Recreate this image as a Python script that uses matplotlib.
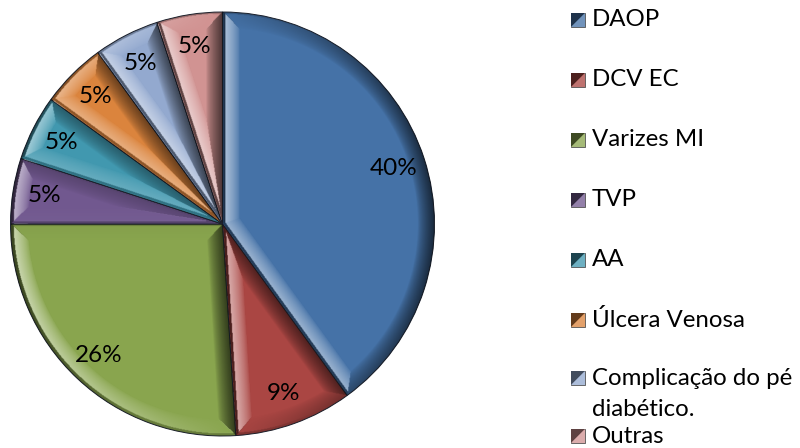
import numpy as np
import matplotlib

matplotlib.use("Agg")
import matplotlib.pyplot as plt
from matplotlib.colors import to_rgb
from matplotlib.patches import Polygon

plt.rcParams["font.family"] = ["Lato", "DejaVu Sans"]

# share of cases per diagnosis
categories = ["DAOP", "DCV EC", "Varizes MI", "TVP", "AA", "Úlcera Venosa",
              "Complicação do pé\ndiabético.", "Outras"]
shares = [40, 9, 26, 5, 5, 5, 5, 5]
colors = ["#4572A7", "#AA4643", "#89A54E", "#71588F", "#4198AF", "#DB843D",
          "#93A9CF", "#D19392"]

W, H, DPI = 800, 448, 100
fig = plt.figure(figsize=(W / DPI, H / DPI), dpi=DPI)
fig.patch.set_facecolor("white")

# pie area in pixels: x 10..435, y 12..436 from top
ax = fig.add_axes([10 / W, 12 / H, 425 / W, 424 / H])
wedges, _, autotexts = ax.pie(
    shares, colors=colors, startangle=90, counterclock=False, radius=1.0,
    autopct=lambda p: f"{p:.0f}%", pctdistance=0.85,
    wedgeprops=dict(edgecolor="#1e2430", linewidth=0.7),
    textprops=dict(fontsize=17.5, color="black"),
)
ax.set_xlim(-1.0, 1.0)
ax.set_ylim(-1.0, 1.0)
ax.set_aspect("equal")
ax.axis("off")

# bevel shading: light from the left, highlight/shadow near each wedge's edges
n = 700
g = np.linspace(-1.0, 1.0, n)
xx, yy = np.meshgrid(g, g)
rr = np.hypot(xx, yy)
phi = np.degrees(np.arctan2(yy, xx))
light = np.array([-1.0, -0.05])
light /= np.linalg.norm(light)
bevel = 0.08

for w in wedges:
    t1, t2 = w.theta1, w.theta2
    p = (phi - t1) % 360.0
    span = t2 - t1
    a1 = np.radians(t1)
    a2 = np.radians(t2)
    d_arc = 1.0 - rr
    d1 = rr * np.sin(np.radians(p))
    d2 = rr * np.sin(np.radians(span - p))
    d1 = np.where((p <= 90) & (p <= span), d1, 9.0)
    d2 = np.where((span - p <= 90) & (p <= span), d2, 9.0)

    nx = np.cos(np.radians(phi))
    ny = np.sin(np.radians(phi))
    dmin = d_arc.copy()
    n1 = np.array([np.cos(a1 - np.pi / 2), np.sin(a1 - np.pi / 2)])
    n2 = np.array([np.cos(a2 + np.pi / 2), np.sin(a2 + np.pi / 2)])
    m1 = d1 < dmin
    nx = np.where(m1, n1[0], nx)
    ny = np.where(m1, n1[1], ny)
    dmin = np.where(m1, d1, dmin)
    m2 = d2 < dmin
    nx = np.where(m2, n2[0], nx)
    ny = np.where(m2, n2[1], ny)
    dmin = np.where(m2, d2, dmin)

    dot = nx * light[0] + ny * light[1]
    prof = np.clip(1.0 - dmin / bevel, 0.0, 1.0) ** 0.7
    s = dot * prof
    rgba = np.zeros((n, n, 4))
    hi = s > 0
    rgba[hi, :3] = 1.0
    rgba[hi, 3] = np.clip(s[hi] * 0.6, 0, 1)
    rgba[~hi, :3] = 0.0
    rgba[~hi, 3] = np.clip(-s[~hi] * 0.65, 0, 1)
    # faint groove right at the edge
    edge = dmin < 0.012
    rgba[edge, :3] = 0.0
    rgba[edge, 3] = np.maximum(rgba[edge, 3], 0.25)
    im = ax.imshow(rgba, extent=(-1, 1, -1, 1), origin="lower",
                   interpolation="bilinear", zorder=1.5)
    im.set_clip_path(w)

for t in autotexts:
    t.set_zorder(3)

# legend on the right with small bevelled squares
leg_rows = [20, 80, 140, 200, 260, 320, 378, 436]
sq = 14
sx = 571
for lab, col, yc in zip(categories, colors, leg_rows):
    x0, x1 = sx / W, (sx + sq) / W
    y0, y1 = (H - yc - sq / 2) / H, (H - yc + sq / 2) / H
    base = np.array(to_rgb(col))
    dark = base * 0.45
    light_c = np.clip(base * 0.6 + 0.4, 0, 1)
    fig.patches.append(Polygon([[x0, y0], [x1, y0], [x1, y1], [x0, y1]],
                               closed=True, transform=fig.transFigure,
                               facecolor=base, edgecolor="#555555", lw=0.6))
    fig.patches.append(Polygon([[x0, y0], [x0, y1], [x1, y1]], closed=True,
                               transform=fig.transFigure, facecolor=dark,
                               edgecolor="none"))
    fig.patches.append(Polygon([[x0, y0], [x1, y0], [x1, y1]], closed=True,
                               transform=fig.transFigure, facecolor=light_c,
                               edgecolor="none", alpha=0.6))
    first, *rest = lab.split("\n")
    fig.text(592 / W, (H - yc) / H, first, fontsize=17.3, va="center",
             ha="left", color="black")
    for k, line in enumerate(rest, start=1):
        fig.text(592 / W, (H - yc - 31 * k) / H, line, fontsize=17.3,
                 va="center", ha="left", color="black")

fig.savefig("out.png", dpi=DPI)
